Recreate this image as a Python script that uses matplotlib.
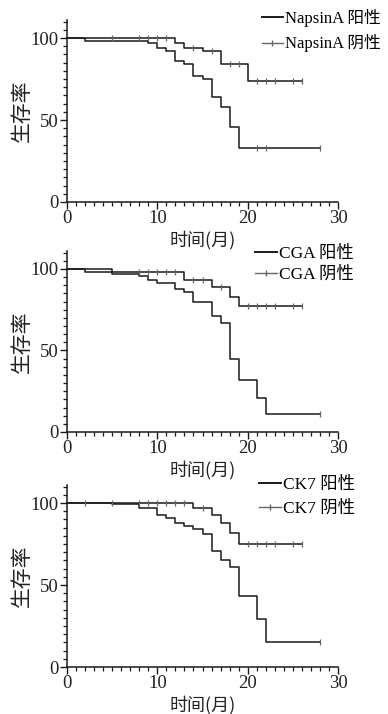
import numpy as np
import matplotlib
matplotlib.use("Agg")
import matplotlib.pyplot as plt
from matplotlib.lines import Line2D
from matplotlib.ticker import MultipleLocator

SERIF = ['Liberation Serif', 'Noto Sans CJK SC']

# ---------------- data ----------------
markers = ["NapsinA", "CGA", "CK7"]

# Panel 1 (NapsinA)
p1_pos_t = [0, 12, 13, 15, 17, 20, 26]
p1_pos_s = [100, 97, 94, 92, 84, 74, 74]
p1_pos_c = [5, 8, 9, 10, 11, 14, 16, 18, 19, 21, 22, 23, 25, 26]
p1_neg_t = [0, 2, 9, 10, 11, 12, 13, 14, 15, 16, 17, 18, 19, 28]
p1_neg_s = [100, 98, 97, 94, 92, 86, 84, 77, 75, 64, 58, 46, 33, 33]
p1_neg_c = [21, 22, 28]

# Panel 2 (CGA)
p2_pos_t = [0, 5, 13, 16, 18, 19, 26]
p2_pos_s = [100, 98, 93, 89, 83, 77, 77]
p2_pos_c = [8, 9, 10, 11, 12, 14, 15, 17, 20, 21, 22, 23, 25, 26]
p2_neg_t = [0, 2, 5, 8, 9, 10, 12, 13, 14, 16, 17, 18, 19, 21, 22, 28]
p2_neg_s = [100, 98, 97, 95.5, 93, 91.5, 88, 86, 80, 71, 67, 45, 32, 21, 11, 11]
p2_neg_c = [28]

# Panel 3 (CK7)
p3_pos_t = [0, 14, 16, 17, 18, 19, 26]
p3_pos_s = [100, 97, 93, 88, 82, 75, 75]
p3_pos_c = [2, 5, 8, 9, 10, 11, 12, 13, 15, 20, 21, 22, 23, 25, 26]
p3_neg_t = [0, 5, 8, 10, 11, 12, 13, 14, 15, 16, 17, 18, 19, 21, 22, 28]
p3_neg_s = [100, 99.5, 97, 93, 91, 88, 86, 84, 81, 71, 65, 61, 43, 29, 15, 15]
p3_neg_c = [28]

panels = [
    (p1_pos_t, p1_pos_s, p1_pos_c, p1_neg_t, p1_neg_s, p1_neg_c),
    (p2_pos_t, p2_pos_s, p2_pos_c, p2_neg_t, p2_neg_s, p2_neg_c),
    (p3_pos_t, p3_pos_s, p3_pos_c, p3_neg_t, p3_neg_s, p3_neg_c),
]

x_ticks = [0, 10, 20, 30]
y_ticks = [0, 50, 100]
xlabel = "时间(月)"
ylabel = "生存率"
pos_label = "阳性"
neg_label = "阴性"

# ---------------- layout ----------------
W, H = 388, 714
fig = plt.figure(figsize=(W / 100, H / 100), dpi=100)

# (top_px, bottom_px) of axes for each panel
boxes = [(20, 202), (251, 432), (485, 667)]
left_px, right_px = 67, 338
legend_top = [9, 246, 477]
legend_x = [262, 255, 259]
legend_space = [0.45, 0.25, 0.45]
legend_size = [12.0, 12.5, 12.5]

line_col = '#1a1a1a'

def step_value(t, s, x):
    idx = np.searchsorted(np.asarray(t), x, side='right') - 1
    return np.asarray(s)[idx]

for i, (pt, ps, pc, nt, ns, nc) in enumerate(panels):
    top, bot = boxes[i]
    ax = fig.add_axes([left_px / W, 1 - bot / H, (right_px - left_px) / W, (bot - top) / H])
    ax.set_xlim(0, 30)
    ax.set_ylim(0, 111)
    for sp in ['top', 'right']:
        ax.spines[sp].set_visible(False)
    for sp in ['left', 'bottom']:
        ax.spines[sp].set_linewidth(1.1)
        ax.spines[sp].set_color(line_col)

    ax.step(pt, ps, where='post', color=line_col, lw=1.1, clip_on=False)
    ax.step(nt, ns, where='post', color=line_col, lw=1.1, clip_on=False)
    ax.plot(pc, step_value(pt, ps, pc), ls='none', marker='|', ms=5, mew=0.9,
            color='#666666', clip_on=False)
    ax.plot(nc, step_value(nt, ns, nc), ls='none', marker='|', ms=5, mew=0.9,
            color='#666666', clip_on=False)

    ax.set_xticks(x_ticks)
    ax.set_yticks(y_ticks)
    ax.xaxis.set_minor_locator(MultipleLocator(1))
    ax.yaxis.set_minor_locator(MultipleLocator(5))
    ax.tick_params(which='major', length=5, width=1.0, color=line_col, labelsize=13.5, pad=1)
    ax.tick_params(which='minor', length=3, width=0.9, color=line_col)
    for lab in ax.get_xticklabels() + ax.get_yticklabels():
        lab.set_fontfamily(SERIF)
        lab.set_color('#222222')

    ax.set_xlabel(xlabel, family=['Noto Sans CJK SC'], fontsize=13, labelpad=2, color='#222222')
    ax.set_ylabel(ylabel, family=['Noto Sans CJK SC'], fontsize=15, labelpad=-2, color='#222222')

    handles = [Line2D([], [], color=line_col, lw=1.4),
               Line2D([], [], color='#666666', lw=1.0, marker='|', ms=4)]
    labels = [f"{markers[i]} {pos_label}", f"{markers[i]} {neg_label}"]
    fig.legend(handles, labels, loc='upper left',
               bbox_to_anchor=(legend_x[i] / W, 1 - legend_top[i] / H),
               bbox_transform=fig.transFigure, frameon=False, borderpad=0,
               borderaxespad=0, handlelength=1.25, handletextpad=0.15,
               labelspacing=legend_space[i],
               prop={'family': SERIF, 'size': legend_size[i]})

fig.savefig("out.png", dpi=100, facecolor='white')
